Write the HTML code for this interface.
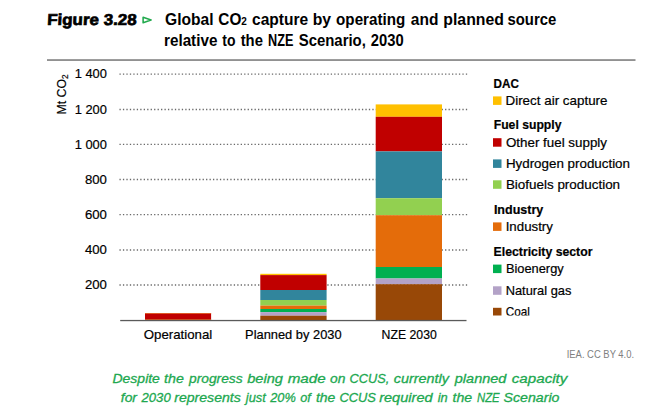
<!DOCTYPE html>
<html><head><meta charset="utf-8">
<style>
html,body{margin:0;padding:0;background:#fff;width:653px;height:410px;overflow:hidden}
svg{display:block}
text{font-family:"Liberation Sans",sans-serif}
</style></head>
<body>
<svg width="653" height="410" viewBox="0 0 653 410">
<defs>
<clipPath id="lg"><rect x="480" y="60" width="170" height="255.6"/></clipPath>
</defs>
<rect width="653" height="410" fill="#fff"/>
<!-- Title -->
<text transform="translate(46.9 24.7) skewX(-3)" x="0" y="0" font-size="15.8" font-weight="bold" fill="#000" stroke="#000" stroke-width="0.7" textLength="89.6" lengthAdjust="spacingAndGlyphs">Figure 3.28</text>
<path d="M143.1 17.3 L151.1 20 L143.1 22.7 Z" fill="none" stroke="#22aa4e" stroke-width="1.55" stroke-linejoin="round"/>
<g id="ttl" font-size="16.2" font-weight="bold" fill="#000">
<text x="165.0" y="24.7" textLength="48.6" lengthAdjust="spacingAndGlyphs">Global</text>
<text x="218.3" y="24.7" textLength="28.6" lengthAdjust="spacingAndGlyphs">CO<tspan font-size="10.5">2</tspan></text>
<text x="252.0" y="24.7" textLength="56.2" lengthAdjust="spacingAndGlyphs">capture</text>
<text x="312.7" y="24.7" textLength="18.4" lengthAdjust="spacingAndGlyphs">by</text>
<text x="336.1" y="24.7" textLength="69.2" lengthAdjust="spacingAndGlyphs">operating</text>
<text x="410.8" y="24.7" textLength="27.6" lengthAdjust="spacingAndGlyphs">and</text>
<text x="443.3" y="24.7" textLength="60.6" lengthAdjust="spacingAndGlyphs">planned</text>
<text x="507.5" y="24.7" textLength="48.8" lengthAdjust="spacingAndGlyphs">source</text>
<text x="164.0" y="45.9" textLength="53.4" lengthAdjust="spacingAndGlyphs">relative</text>
<text x="222.3" y="45.9" textLength="13.2" lengthAdjust="spacingAndGlyphs">to</text>
<text x="240.7" y="45.9" textLength="22.2" lengthAdjust="spacingAndGlyphs">the</text>
<text x="268.0" y="45.9" textLength="25.4" lengthAdjust="spacingAndGlyphs">NZE</text>
<text x="298.7" y="45.9" textLength="67.2" lengthAdjust="spacingAndGlyphs">Scenario,</text>
<text x="370.8" y="45.9" textLength="32.8" lengthAdjust="spacingAndGlyphs">2030</text>
</g>
<rect x="47" y="59.2" width="588.5" height="1.7" fill="#858585"/>

<!-- gridlines -->
<g stroke="#6a6a6a" stroke-width="1.35" stroke-dasharray="1.3 2.164">
<line x1="119.45" y1="74.1" x2="467.3" y2="74.1"/>
<line x1="119.45" y1="109.5" x2="467.3" y2="109.5"/>
<line x1="119.45" y1="144.3" x2="467.3" y2="144.3"/>
<line x1="119.45" y1="179.5" x2="467.3" y2="179.5"/>
<line x1="119.45" y1="214.6" x2="467.3" y2="214.6"/>
<line x1="119.45" y1="250.0" x2="467.3" y2="250.0"/>
<line x1="119.45" y1="285.0" x2="467.3" y2="285.0"/>
</g>

<!-- bars -->
<rect x="145" y="313.1" width="66.1" height="7" fill="#c00000"/>
<rect x="145" y="313.0" width="66.1" height="0.7" fill="#e8762e"/>
<rect x="145" y="319.2" width="66.1" height="0.8" fill="#d5682a"/>

<g>
<rect x="260.3" y="273.8" width="66.3" height="1.3" fill="#ffc000"/>
<rect x="260.3" y="275.1" width="66.3" height="14.9" fill="#c00000"/>
<rect x="260.3" y="290.0" width="66.3" height="10.0" fill="#31859c"/>
<rect x="260.3" y="300.0" width="66.3" height="5.6" fill="#92d050"/>
<rect x="260.3" y="305.6" width="66.3" height="3.4" fill="#e46c0a"/>
<rect x="260.3" y="309.0" width="66.3" height="3.1" fill="#00b050"/>
<rect x="260.3" y="312.1" width="66.3" height="3.6" fill="#b3a2c7"/>
<rect x="260.3" y="315.7" width="66.3" height="4.6" fill="#984807"/>
</g>

<g>
<rect x="375.7" y="104.4" width="66.3" height="12.4" fill="#ffc000"/>
<rect x="375.7" y="116.8" width="66.3" height="34.6" fill="#c00000"/>
<rect x="375.7" y="151.4" width="66.3" height="46.8" fill="#31859c"/>
<rect x="375.7" y="198.2" width="66.3" height="17.0" fill="#92d050"/>
<rect x="375.7" y="215.2" width="66.3" height="51.8" fill="#e46c0a"/>
<rect x="375.7" y="267.0" width="66.3" height="11.5" fill="#00b050"/>
<rect x="375.7" y="278.5" width="66.3" height="5.7" fill="#b3a2c7"/>
<rect x="375.7" y="284.2" width="66.3" height="36.1" fill="#984807"/>
</g>

<rect x="120.2" y="319.9" width="346.3" height="1.3" fill="#5a5a5a"/>

<!-- y labels -->
<g font-size="13.3" fill="#000" stroke="#000" stroke-width="0.2" text-anchor="end">
<text x="106.9" y="78.3" textLength="32.2" lengthAdjust="spacingAndGlyphs">1 400</text>
<text x="106.9" y="113.7" textLength="32.2" lengthAdjust="spacingAndGlyphs">1 200</text>
<text x="106.9" y="148.5" textLength="32.2" lengthAdjust="spacingAndGlyphs">1 000</text>
<text x="106.9" y="184.0" textLength="22.0" lengthAdjust="spacingAndGlyphs">800</text>
<text x="106.9" y="219.0" textLength="22.0" lengthAdjust="spacingAndGlyphs">600</text>
<text x="106.9" y="254.4" textLength="22.0" lengthAdjust="spacingAndGlyphs">400</text>
<text x="106.9" y="289.4" textLength="22.0" lengthAdjust="spacingAndGlyphs">200</text>
</g>
<text transform="translate(66.2 114.6) rotate(-90)" font-size="12.8" fill="#000" stroke="#000" stroke-width="0.2" textLength="40.2" lengthAdjust="spacingAndGlyphs">Mt CO<tspan font-size="8.5" dy="1.5">2</tspan></text>

<!-- x labels -->
<g font-size="13.2" fill="#000" stroke="#000" stroke-width="0.2">
<text x="143.7" y="339.2" textLength="68.6" lengthAdjust="spacingAndGlyphs">Operational</text>
<text x="245.1" y="339.4" textLength="96.5" lengthAdjust="spacingAndGlyphs">Planned by 2030</text>
<text x="381.6" y="339.2" textLength="55.2" lengthAdjust="spacingAndGlyphs">NZE 2030</text>
</g>

<!-- legend -->
<g clip-path="url(#lg)">
<g font-size="12.6" fill="#000" stroke="#000" stroke-width="0.2">
<text x="493.6" y="88.3" font-weight="bold" textLength="25.3" lengthAdjust="spacingAndGlyphs">DAC</text>
<rect x="493" y="96.4" width="8.5" height="8.5" fill="#ffc000" stroke="none"/>
<text x="505.5" y="104.9" textLength="102" lengthAdjust="spacingAndGlyphs">Direct air capture</text>
<text x="493.7" y="129.2" font-weight="bold" textLength="67.8" lengthAdjust="spacingAndGlyphs">Fuel supply</text>
<rect x="493" y="138.2" width="8.5" height="8.5" fill="#c00000" stroke="none"/>
<text x="505.9" y="146.5" textLength="101.1" lengthAdjust="spacingAndGlyphs">Other fuel supply</text>
<rect x="493" y="159.4" width="8.5" height="8.5" fill="#31859c" stroke="none"/>
<text x="505.9" y="167.9" textLength="124.1" lengthAdjust="spacingAndGlyphs">Hydrogen production</text>
<rect x="493" y="180.3" width="8.5" height="8.5" fill="#92d050" stroke="none"/>
<text x="505.9" y="188.6" textLength="114.2" lengthAdjust="spacingAndGlyphs">Biofuels production</text>
<text x="493.9" y="214.0" font-weight="bold" textLength="49.4" lengthAdjust="spacingAndGlyphs">Industry</text>
<rect x="493" y="222.4" width="8.5" height="8.5" fill="#e46c0a" stroke="none"/>
<text x="505.7" y="230.7" textLength="47.2" lengthAdjust="spacingAndGlyphs">Industry</text>
<text x="493.6" y="255.5" font-weight="bold" textLength="98.9" lengthAdjust="spacingAndGlyphs">Electricity sector</text>
<rect x="493" y="264.6" width="8.5" height="8.5" fill="#00b050" stroke="none"/>
<text x="505.9" y="273.4" textLength="57.8" lengthAdjust="spacingAndGlyphs">Bioenergy</text>
<rect x="493" y="286.3" width="8.5" height="8.5" fill="#b3a2c7" stroke="none"/>
<text x="505.7" y="294.8" textLength="65.7" lengthAdjust="spacingAndGlyphs">Natural gas</text>
<rect x="493" y="307.8" width="8.5" height="8.5" fill="#984807" stroke="none"/>
<text x="505.7" y="316.2" textLength="24.1" lengthAdjust="spacingAndGlyphs">Coal</text>
</g>
</g>

<text x="566.7" y="358.1" font-size="11" fill="#808080" textLength="67.4" lengthAdjust="spacingAndGlyphs">IEA. CC BY 4.0.</text>

<g id="cap" font-size="12.7" font-style="italic" fill="#20a84f" stroke="#20a84f" stroke-width="0.28">
<text x="112.5" y="383.0" textLength="47.4" lengthAdjust="spacingAndGlyphs">Despite</text>
<text x="164.1" y="383.0" textLength="19.8" lengthAdjust="spacingAndGlyphs">the</text>
<text x="189.0" y="383.0" textLength="53.6" lengthAdjust="spacingAndGlyphs">progress</text>
<text x="247.2" y="383.0" textLength="35.8" lengthAdjust="spacingAndGlyphs">being</text>
<text x="287.7" y="383.0" textLength="38.0" lengthAdjust="spacingAndGlyphs">made</text>
<text x="330.0" y="383.0" textLength="15.4" lengthAdjust="spacingAndGlyphs">on</text>
<text x="349.6" y="383.0" textLength="39.8" lengthAdjust="spacingAndGlyphs">CCUS,</text>
<text x="393.8" y="383.0" textLength="55.2" lengthAdjust="spacingAndGlyphs">currently</text>
<text x="454.8" y="383.0" textLength="51.6" lengthAdjust="spacingAndGlyphs">planned</text>
<text x="511.8" y="383.0" textLength="55.6" lengthAdjust="spacingAndGlyphs">capacity</text>
<text x="120.8" y="402.0" textLength="16.2" lengthAdjust="spacingAndGlyphs">for</text>
<text x="141.5" y="402.0" textLength="29.2" lengthAdjust="spacingAndGlyphs">2030</text>
<text x="174.2" y="402.0" textLength="66.6" lengthAdjust="spacingAndGlyphs">represents</text>
<text x="245.8" y="402.0" textLength="20.0" lengthAdjust="spacingAndGlyphs">just</text>
<text x="270.2" y="402.0" textLength="25.6" lengthAdjust="spacingAndGlyphs">20%</text>
<text x="300.2" y="402.0" textLength="10.6" lengthAdjust="spacingAndGlyphs">of</text>
<text x="315.9" y="402.0" textLength="19.4" lengthAdjust="spacingAndGlyphs">the</text>
<text x="339.4" y="402.0" textLength="36.6" lengthAdjust="spacingAndGlyphs">CCUS</text>
<text x="379.2" y="402.0" textLength="53.4" lengthAdjust="spacingAndGlyphs">required</text>
<text x="437.7" y="402.0" textLength="10.0" lengthAdjust="spacingAndGlyphs">in</text>
<text x="452.6" y="402.0" textLength="19.6" lengthAdjust="spacingAndGlyphs">the</text>
<text x="477.0" y="402.0" textLength="22.6" lengthAdjust="spacingAndGlyphs">NZE</text>
<text x="503.5" y="402.0" textLength="56.0" lengthAdjust="spacingAndGlyphs">Scenario</text>
</g>
</svg>
</body></html>
